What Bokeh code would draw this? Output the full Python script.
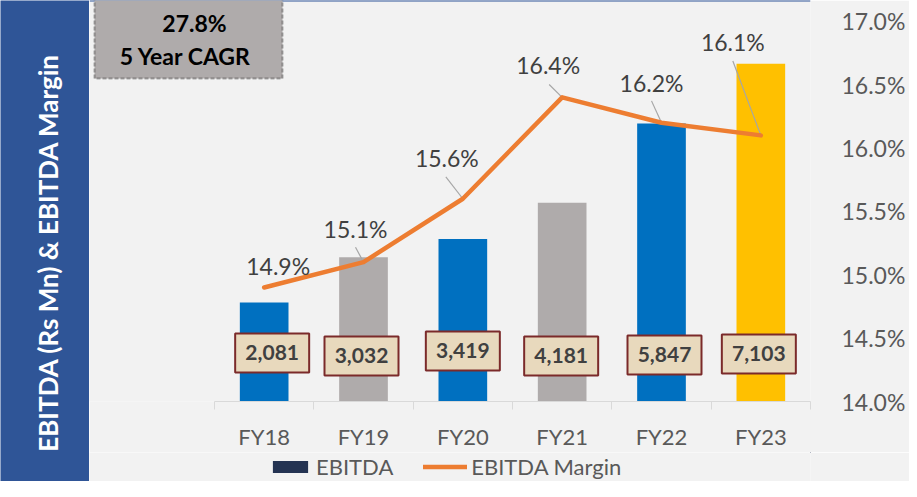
import math
from bokeh.plotting import figure
from bokeh.models import (ColumnDataSource, Range1d, LinearAxis, FixedTicker,
                          PrintfTickFormatter, BoxAnnotation, Label, Legend,
                          LegendItem, Span)
from bokeh.layouts import row, column
from bokeh.core.properties import value
from bokeh.embed import file_html
from bokeh.resources import INLINE

# ---------------- data ----------------
categories = ["FY18", "FY19", "FY20", "FY21", "FY22", "FY23"]
ebitda = [2081, 3032, 3419, 4181, 5847, 7103]            # Rs Mn
ebitda_margin = [14.9, 15.1, 15.6, 16.4, 16.2, 16.1]     # %
margin_ticks = [14.0, 14.5, 15.0, 15.5, 16.0, 16.5, 17.0]
cagr_value = "27.8%"
cagr_caption = "5 Year CAGR"
panel_title = "EBITDA (Rs Mn) & EBITDA Margin"
series_names = ["EBITDA", "EBITDA Margin"]

# ---------------- styles / layout ----------------
bar_colors = ["#0070C0", "#AFABAB", "#0070C0", "#AFABAB", "#0070C0", "#FFC000"]
BLUE = "#2F5597"
BG = "#F2F2F2"
ORANGE = "#ED7D31"
NAVY = "#243352"
FONT = "Lato"

TOTAL_H = 481
PANEL_W = 89
MAIN_W = 820
MAIN_H = 452
LEG_H = TOTAL_H - MAIN_H
FRAME_H = 404            # frame height in px
LEFT_PAD = 125           # px from frame left to first category edge
CAT_PX = 99.33           # px per category
PCT_PX = 127.67          # px per 1 percentage point
BAR_PX = 0.0479          # px per Rs Mn
VALUE_LABEL_Y = 1000     # bar units, where value boxes sit

# label offsets in screen px, positive = right / down (layout only)
pct_dx = [14, -8, -16, -14, -10, -28]
pct_dy = [-21, -33, -41, -32, -40, -93]
lead_dx = [0, -8, -17, -13, -10, -28]
lead_dy = [0, -15, -22, -13, -22, -75]
box_dx = [8, -2, 0, -1, 3, -2]
box_dy = [-1, 2, -3, 2, 1, 0]

n = len(categories)
idx = list(range(n))

# ================= main chart =================
x_range = Range1d(-0.5 - LEFT_PAD / CAT_PX, n - 0.5)
y_range = Range1d(0, FRAME_H / BAR_PX)

p = figure(width=MAIN_W, height=MAIN_H, x_range=x_range, y_range=y_range,
           toolbar_location=None, output_backend="svg",
           y_axis_location=None,
           background_fill_color=BG, border_fill_color=BG,
           outline_line_color=None,
           min_border_left=0, min_border_right=99,
           min_border_top=0, min_border_bottom=MAIN_H - FRAME_H)
p.grid.visible = False
p.extra_y_ranges = {"pct": Range1d(margin_ticks[0], margin_ticks[0] + FRAME_H / PCT_PX)}

# top border line
p.add_layout(Span(location=p.extra_y_ranges["pct"].end, dimension="width",
                  y_range_name="pct", line_color=BLUE, line_width=2))

# bars
bar_src = ColumnDataSource(dict(x=idx, top=ebitda, color=bar_colors))
p.vbar(x="x", top="top", width=0.49, fill_color="color", line_color=None,
       source=bar_src)

# leader lines
lead_src = ColumnDataSource(dict(
    x0=idx, y0=ebitda_margin,
    x1=[i + dx / CAT_PX for i, dx in zip(idx, lead_dx)],
    y1=[m - dy / PCT_PX for m, dy in zip(ebitda_margin, lead_dy)]))
p.segment(x0="x0", y0="y0", x1="x1", y1="y1", source=lead_src,
          line_color="#A6A6A6", line_width=1.2, y_range_name="pct")

# margin line
p.line(idx, ebitda_margin, line_color=ORANGE, line_width=4.5,
       line_cap="round", line_join="round", y_range_name="pct")

# margin labels
pct_src = ColumnDataSource(dict(x=idx, y=ebitda_margin,
                                t=[f"{m:.1f}%" for m in ebitda_margin],
                                dx=pct_dx, dy=pct_dy))
p.text(x="x", y="y", text="t", x_offset="dx", y_offset="dy", source=pct_src,
       y_range_name="pct", text_font=value(FONT), text_font_size="23px",
       text_color="#404040", text_align="center", text_baseline="middle")

# value boxes
val_src = ColumnDataSource(dict(x=[i + dx / CAT_PX for i, dx in zip(idx, box_dx)],
                                y=[VALUE_LABEL_Y - dy / BAR_PX for dy in box_dy],
                                t=[f"{v:,}" for v in ebitda]))
p.rect(x="x", y="y", width=74, height=39, width_units="screen",
       height_units="screen", source=val_src, fill_color="#E8D9BD",
       line_color="#7B2A2A", line_width=2)
p.text(x="x", y="y", text="t", source=val_src, text_font=value(FONT),
       text_font_size="21px", text_font_style="bold", text_color="#404040",
       text_align="center", text_baseline="middle")

# CAGR box
p.add_layout(BoxAnnotation(left=5, right=193, top=FRAME_H - 1, bottom=FRAME_H - 81,
                           left_units="screen", right_units="screen",
                           top_units="screen", bottom_units="screen",
                           fill_color="#AFABAB", fill_alpha=1,
                           line_color="black", line_width=2, line_dash="4 2"))
p.add_layout(Label(x=105, y=FRAME_H - 25, x_units="screen", y_units="screen",
                   text=cagr_value, text_font=FONT, text_font_size="23px",
                   text_font_style="bold", text_color="black",
                   text_align="center", text_baseline="middle"))
p.add_layout(Label(x=96, y=FRAME_H - 58, x_units="screen", y_units="screen",
                   text=cagr_caption, text_font=FONT, text_font_size="23px",
                   text_font_style="bold", text_color="black",
                   text_align="center", text_baseline="middle"))

# x axis
xa = p.xaxis[0]
xa.ticker = FixedTicker(ticks=idx, minor_ticks=[i - 0.5 for i in range(n + 1)])
xa.major_label_overrides = {i: c for i, c in enumerate(categories)}
xa.bounds = (-0.5, n - 0.5)
xa.axis_line_color = "#D9D9D9"
xa.major_tick_line_color = None
xa.major_tick_out = 0
xa.major_tick_in = 0
xa.minor_tick_line_color = "#D9D9D9"
xa.minor_tick_out = 8
xa.minor_tick_in = 0
xa.major_label_standoff = 13
xa.major_label_text_font = FONT
xa.major_label_text_font_size = "22px"
xa.major_label_text_color = "#595959"

# right axis
ya = LinearAxis(y_range_name="pct", ticker=FixedTicker(ticks=margin_ticks),
                formatter=PrintfTickFormatter(format="%.1f%%"),
                bounds=(margin_ticks[0], margin_ticks[-1]))
ya.axis_line_color = None
ya.major_tick_line_color = None
ya.minor_tick_line_color = None
ya.major_label_standoff = 25
ya.major_label_text_font = FONT
ya.major_label_text_font_size = "23px"
ya.major_label_text_color = "#595959"
p.add_layout(ya, "right")

# ================= legend strip =================
# proxies carry the real series but lie far outside this strip's visible ranges
lg = figure(width=MAIN_W, height=LEG_H, x_range=Range1d(-100, -99),
            y_range=Range1d(-100, -99),
            toolbar_location=None, output_backend="svg",
            x_axis_location=None, y_axis_location=None, min_border=0,
            background_fill_color=BG, border_fill_color=BG,
            outline_line_color=None)
lg.grid.visible = False
bar_proxy = lg.vbar(x=idx, top=ebitda, width=0.5, fill_color=NAVY, line_color=None)
line_proxy = lg.line(x=idx, y=ebitda_margin, line_color=ORANGE, line_width=4.5,
                     line_cap="round")
legend = Legend(items=[LegendItem(label=series_names[0], renderers=[bar_proxy]),
                       LegendItem(label=series_names[1], renderers=[line_proxy])],
                orientation="horizontal", location=(179, 1),
                glyph_width=44, glyph_height=15, label_standoff=4, spacing=30,
                label_text_font=FONT, label_text_font_size="22px",
                label_text_color="#595959", background_fill_alpha=0,
                border_line_color=None, padding=0, margin=0)
lg.add_layout(legend)

# ================= left title panel =================
lp = figure(width=PANEL_W, height=TOTAL_H, x_range=Range1d(0, 1),
            y_range=Range1d(0, 1), toolbar_location=None, output_backend="svg",
            x_axis_location=None, y_axis_location=None, min_border=0,
            background_fill_color=BLUE, border_fill_color=BLUE,
            outline_line_color=None)
lp.grid.visible = False
lp.add_layout(Label(x=47, y=TOTAL_H - 252, x_units="screen", y_units="screen",
                    text=panel_title, angle=math.pi / 2, text_font=FONT,
                    text_font_size="26px", text_font_style="bold",
                    text_color="white", text_align="center",
                    text_baseline="middle"))

layout = row(lp, column(p, lg, spacing=0), spacing=0)
open("out.html", "w").write(file_html(layout, INLINE))
